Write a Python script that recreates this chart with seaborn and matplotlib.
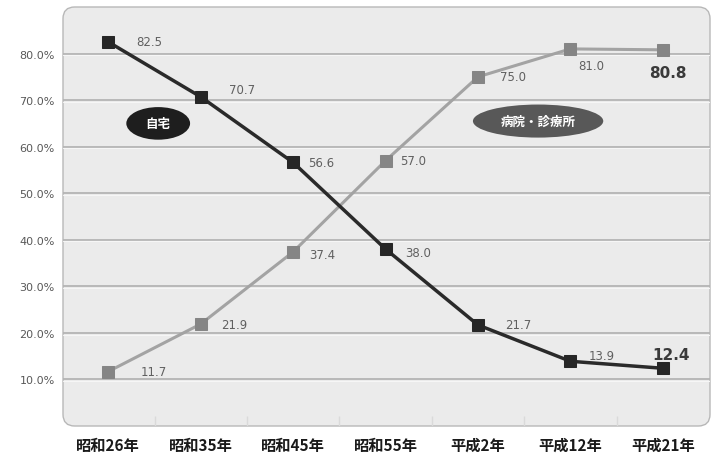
import matplotlib
matplotlib.use("Agg")
import matplotlib.pyplot as plt
import seaborn as sns
import pandas as pd
from matplotlib.patches import FancyBboxPatch, Ellipse

categories = ["昭和26年", "昭和35年", "昭和45年", "昭和55年", "平成2年", "平成12年", "平成21年"]
home = [82.5, 70.7, 56.6, 38.0, 21.7, 13.9, 12.4]
hospital = [11.7, 21.9, 37.4, 57.0, 75.0, 81.0, 80.8]
y_ticks = [10, 20, 30, 40, 50, 60, 70, 80]
series_names = ["自宅", "病院・診療所"]

sns.set_theme(style="white")
plt.rcParams['font.family'] = ['Noto Sans CJK JP', 'DejaVu Sans']

pos = list(range(len(categories)))
df = pd.DataFrame({
    "pos": pos * 2,
    "value": home + hospital,
    "series": [series_names[0]] * len(home) + [series_names[1]] * len(hospital),
})

fig = plt.figure(figsize=(7.17, 4.56), dpi=100)
ax = fig.add_axes([63 / 717, 1 - 427 / 456, (710 - 63) / 717, (427 - 8) / 456])
ax.set_xlim(-0.49, 6.51)
ax.set_ylim(0, 90)
ax.patch.set_visible(False)
for s in ax.spines.values():
    s.set_visible(False)

box = FancyBboxPatch((0, 0), 1, 1, boxstyle="round,pad=0,rounding_size=0.018",
                     transform=ax.transAxes, facecolor="#ebebeb", edgecolor="#b8b8b8",
                     linewidth=1.0, zorder=0, clip_on=False, mutation_aspect=647 / 419)
ax.add_patch(box)

for yt in y_ticks:
    ax.axhline(yt, color="#b4b4b4", lw=1.3, zorder=1)
    ax.axhline(yt - 0.35, color="#f6f6f6", lw=0.8, zorder=1)
ax.vlines([p + 0.5 for p in pos[:-1]], 0, 2.2, color="#dadada", lw=1.0, zorder=1)

d_home = df[df.series == series_names[0]]
d_hosp = df[df.series == series_names[1]]
sns.lineplot(data=d_hosp, x="pos", y="value", ax=ax, color="#a3a3a3", lw=2.2,
             marker="s", markersize=8.5, markerfacecolor="#858585", markeredgecolor="#858585",
             zorder=3, legend=False)
sns.lineplot(data=d_home, x="pos", y="value", ax=ax, color="#2a2a2a", lw=2.5,
             marker="s", markersize=8.5, markerfacecolor="#262626", markeredgecolor="#262626",
             zorder=4, legend=False)

home_off = [(28, 0, 'left'), (28, 7, 'left'), (15, 0, 'left'), (20, -3, 'left'),
            (27, 0, 'left'), (18, 6, 'left'), (8, 14, 'center')]
hosp_off = [(32, 0, 'left'), (20, 0, 'left'), (16, -3, 'left'), (15, 0, 'left'),
            (22, 0, 'left'), (21, -17, 'center'), (5, -23, 'center')]
for i, v in enumerate(home):
    dx, dy, ha = home_off[i]
    last = i == len(home) - 1
    ax.annotate(f"{v:.1f}", (i, v), xytext=(dx, dy), textcoords="offset pixels",
                ha=ha, va="center", fontsize=11 if last else 8.5,
                fontweight="bold" if last else "normal",
                color="#3a3a3a" if last else "#606060", family="DejaVu Sans", zorder=5)
for i, v in enumerate(hospital):
    dx, dy, ha = hosp_off[i]
    last = i == len(hospital) - 1
    ax.annotate(f"{v:.1f}", (i, v), xytext=(dx, dy), textcoords="offset pixels",
                ha=ha, va="center", fontsize=11 if last else 8.5,
                fontweight="bold" if last else "normal",
                color="#3a3a3a" if last else "#606060", family="DejaVu Sans", zorder=5)

ax.add_patch(Ellipse((0.54, 65.0), 0.69, 7.0, facecolor="#1e1e1e", edgecolor="none", zorder=5))
ax.text(0.54, 65.0, series_names[0], color="white", fontsize=9, fontweight="bold",
        ha="center", va="center", zorder=6)
ax.add_patch(Ellipse((4.65, 65.5), 1.41, 7.1, facecolor="#585858", edgecolor="none", zorder=5))
ax.text(4.65, 65.5, series_names[1], color="white", fontsize=9, fontweight="bold",
        ha="center", va="center", zorder=6)

ax.set_xticks(pos)
ax.set_xticklabels(categories, fontsize=11, fontweight="bold", color="#1a1a1a")
ax.set_yticks(y_ticks)
ax.set_yticklabels([f"{t:.1f}%" for t in y_ticks], fontsize=8, color="#585858",
                   family="DejaVu Sans")
ax.tick_params(axis="both", length=0)
ax.tick_params(axis="x", pad=8)
ax.tick_params(axis="y", pad=6)
ax.set_xlabel("")
ax.set_ylabel("")

fig.savefig("out.png", dpi=100, facecolor="white")
